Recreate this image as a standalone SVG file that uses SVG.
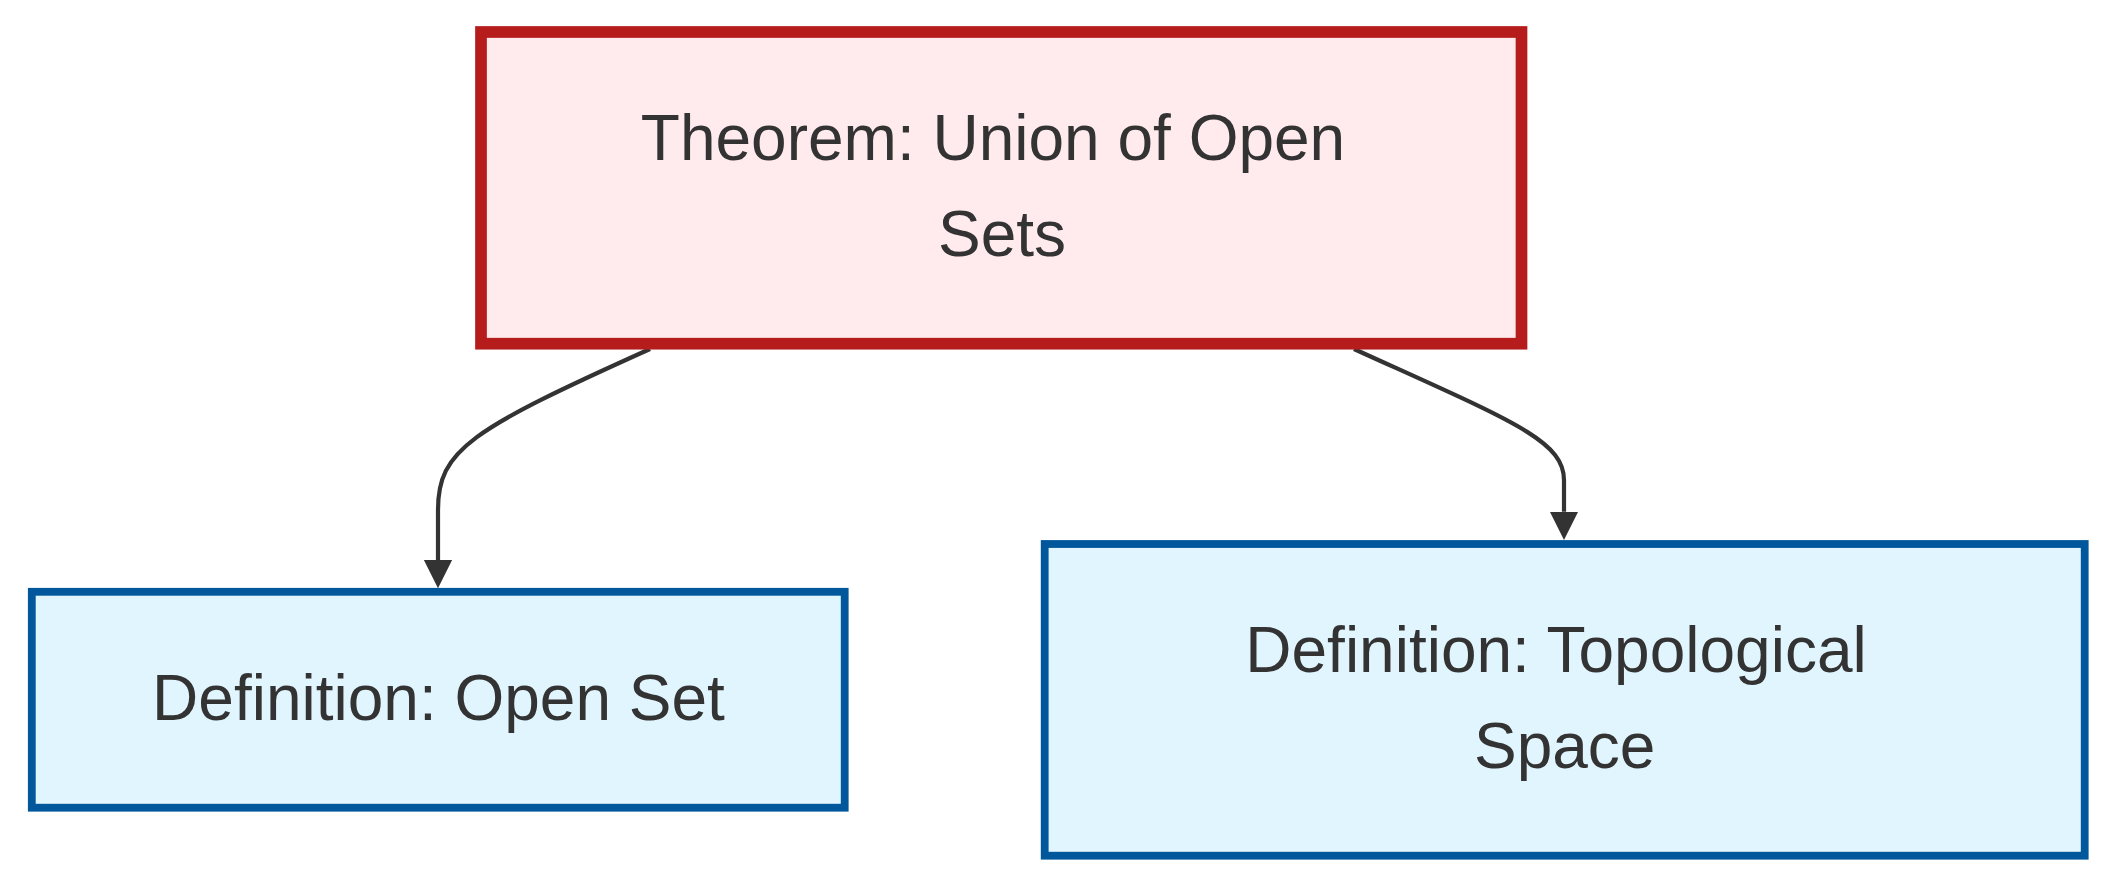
<svg xmlns="http://www.w3.org/2000/svg" width="2116" height="888" viewBox="0 0 2116 888">
  <style>
    .theorem rect { fill: #ffebee; stroke: #b71c1c; stroke-width: 11.7; }
    .definition rect { fill: #e1f5fe; stroke: #01579b; stroke-width: 7.8; }
    text { font-family: "Liberation Sans", Arial, sans-serif; font-size: 64px; fill: #333333; text-anchor: middle; }
    .edge { fill: none; stroke: #333333; stroke-width: 4.2; }
  </style>
  <defs>
    <marker id="arrow" viewBox="0 0 10 10" refX="0" refY="5" markerUnits="userSpaceOnUse" markerWidth="28.3" markerHeight="32" orient="auto">
      <path d="M0,0 L10,5 L0,10 z" fill="#333333"/>
    </marker>
  </defs>
  <rect width="2116" height="888" fill="#ffffff"/>
  <g id="connectors">
    <path class="edge" d="M650,349 C470,430 438,450 438,510 L438,560" marker-end="url(#arrow)"/>
    <path class="edge" d="M1354,349 C1510,420 1564,440 1564,480 L1564,511.7" marker-end="url(#arrow)"/>
  </g>
  <g id="theorem" class="theorem">
    <rect x="481" y="32" width="1040.5" height="311.7"/>
    <text x="993" y="160">Theorem: Union of Open</text>
    <text x="1002" y="256">Sets</text>
  </g>
  <g id="def-open-set" class="definition">
    <rect x="31.8" y="591.8" width="812.9" height="215.9"/>
    <text x="438.5" y="720">Definition: Open Set</text>
  </g>
  <g id="def-topological-space" class="definition">
    <rect x="1044.7" y="544" width="1040" height="311.7"/>
    <text x="1556" y="672">Definition: Topological</text>
    <text x="1564.7" y="768">Space</text>
  </g>
</svg>
